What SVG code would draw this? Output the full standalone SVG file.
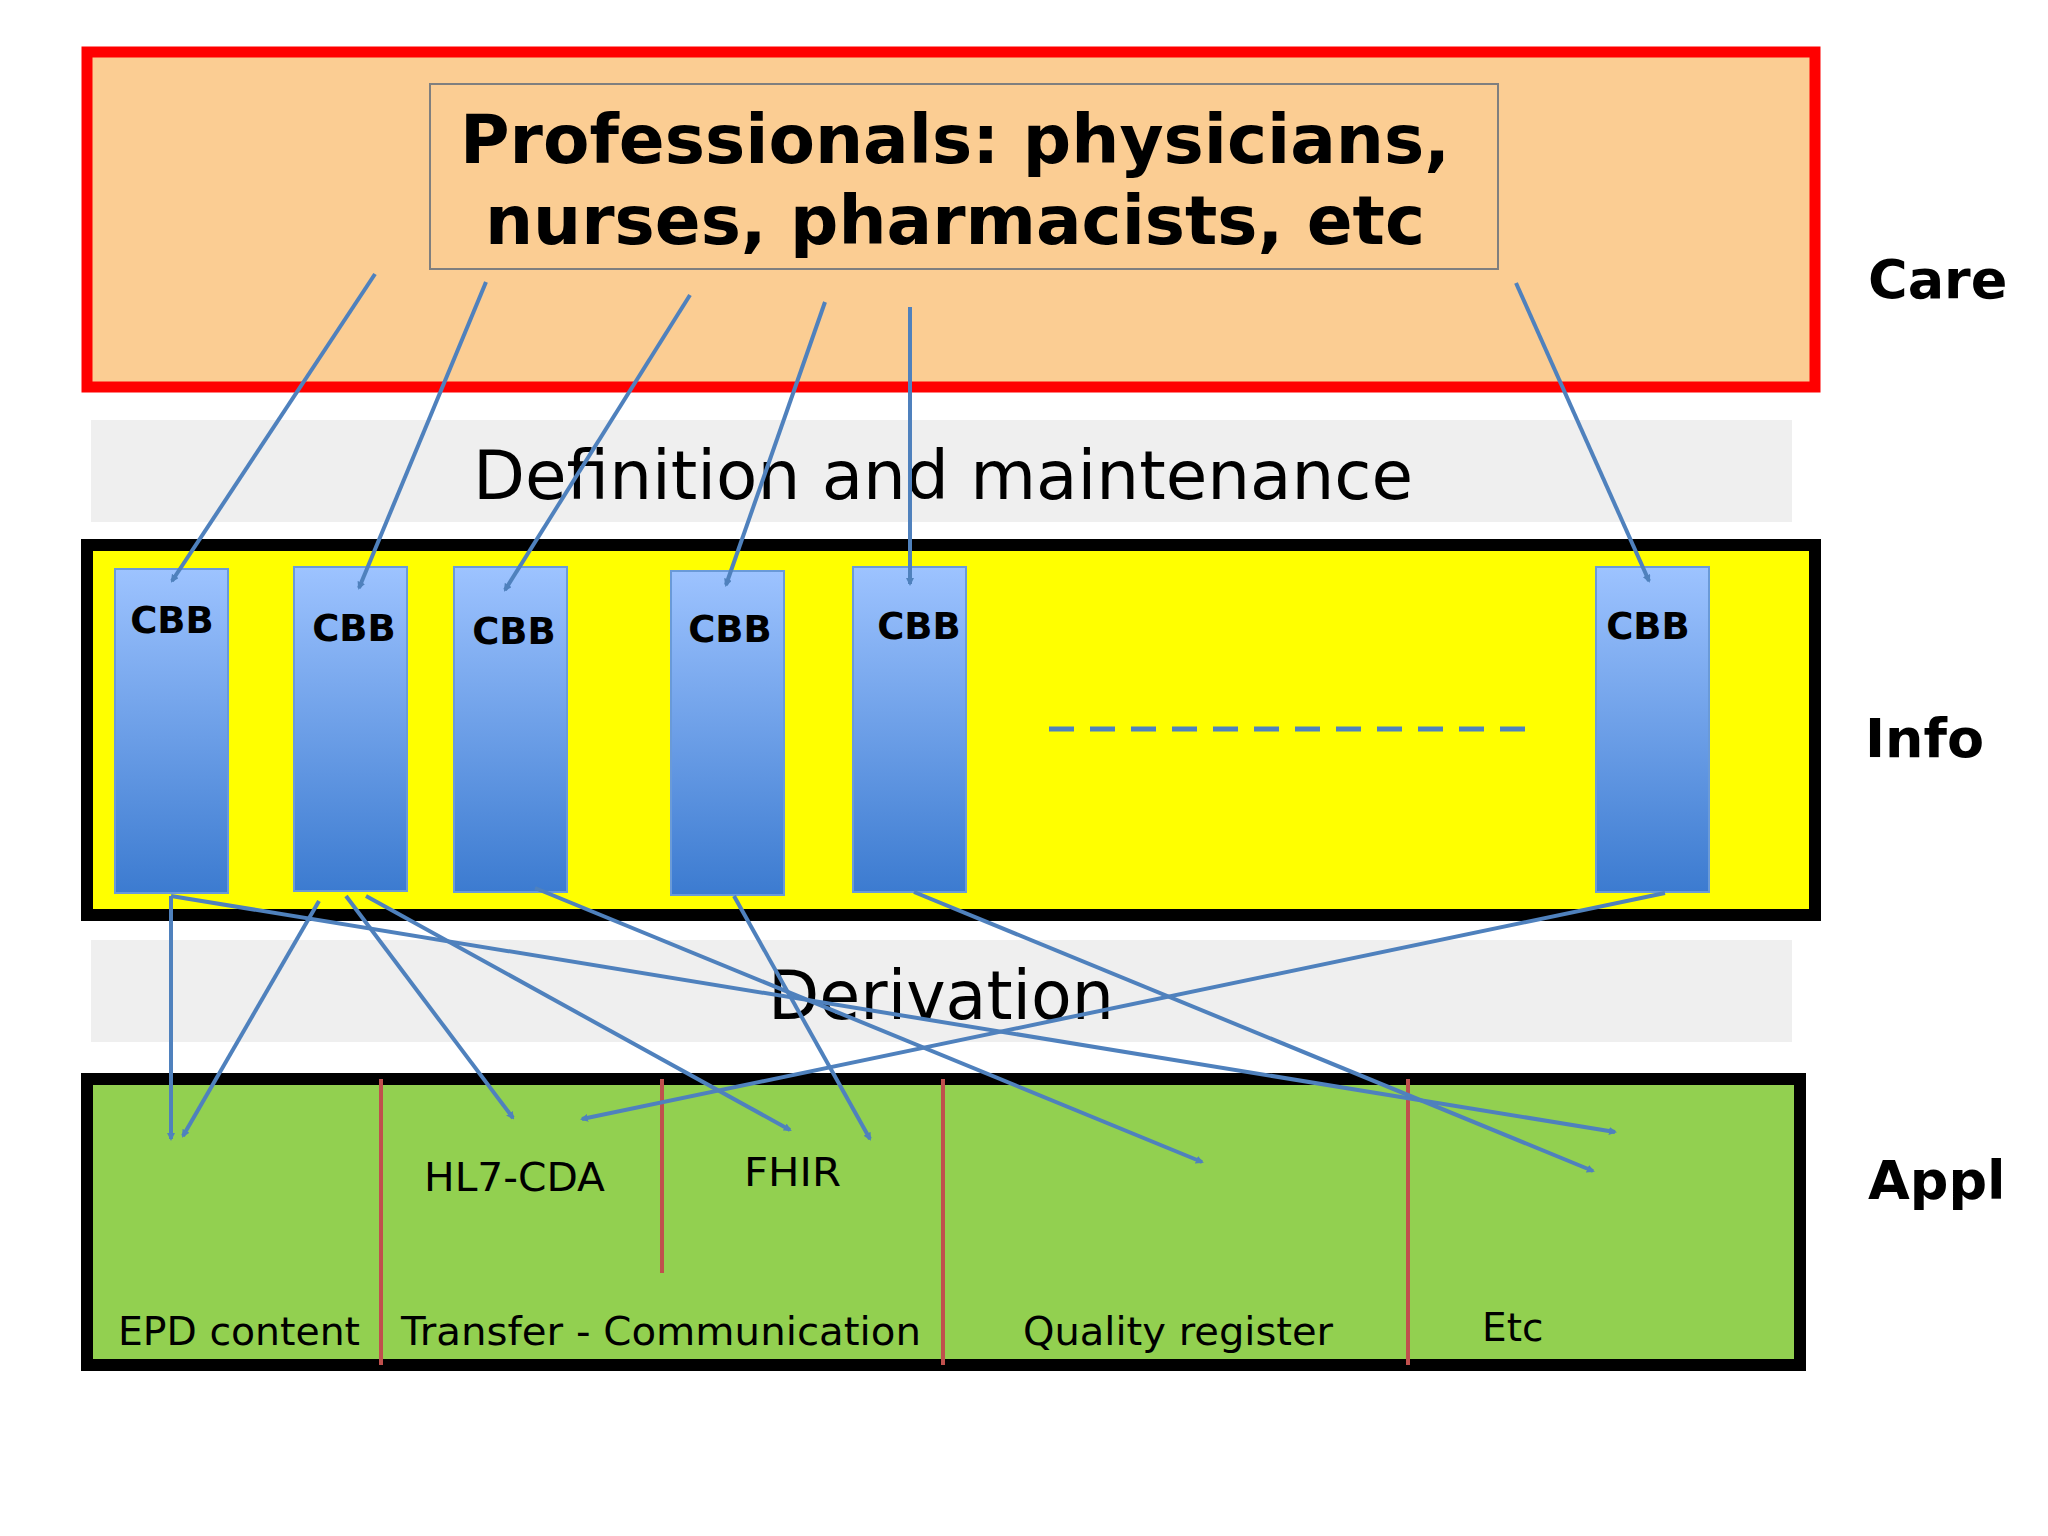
<svg xmlns="http://www.w3.org/2000/svg" width="2048" height="1536" viewBox="0 0 2048 1536">
<style>
.cbb{fill:url(#g);stroke:#6a9ad8;stroke-width:2}
.cl{font-family:"DejaVu Sans",sans-serif;font-weight:bold;font-size:37px;fill:#000;text-anchor:middle}
.side{font-family:"DejaVu Sans",sans-serif;font-weight:bold;font-size:54px;fill:#000}
.app{font-family:"DejaVu Sans",sans-serif;font-size:39px;fill:#000}
.band{font-family:"DejaVu Sans",sans-serif;font-size:68px;fill:#000}
.c{stroke:#4f81bd;stroke-width:4;fill:none;marker-end:url(#a)}
.sep{stroke:#c0504d;stroke-width:4}
</style>
<defs>
<linearGradient id="g" x1="0" y1="0" x2="0" y2="1"><stop offset="0" stop-color="#9dc3ff"/><stop offset="1" stop-color="#3c7bd0"/></linearGradient>
<marker id="a" markerWidth="8" markerHeight="8" refX="6" refY="4" orient="auto" markerUnits="userSpaceOnUse"><path d="M0,0 L8,4 L0,8 z" fill="#4f81bd"/></marker>
</defs>
<rect width="2048" height="1536" fill="#fff"/>
<g id="care">
<rect x="87" y="52" width="1728" height="335" fill="#fbcd93" stroke="#ff0000" stroke-width="11"/>
<rect x="430" y="84" width="1068" height="185" fill="none" stroke="#7f7f7f" stroke-width="2"/>
<text x="955" y="163" class="band" font-weight="bold" text-anchor="middle" textLength="990" lengthAdjust="spacingAndGlyphs">Professionals: physicians,</text>
<text x="955" y="244" class="band" font-weight="bold" text-anchor="middle" textLength="940" lengthAdjust="spacingAndGlyphs">nurses, pharmacists, etc</text>
</g>
<g id="definition"><rect x="91" y="420" width="1701" height="102" fill="#efefef"/>
<text x="473" y="499" class="band" textLength="940" lengthAdjust="spacingAndGlyphs">Definition and maintenance</text></g>
<g id="info">
<rect x="87" y="545" width="1728" height="370" fill="#ffff00" stroke="#000" stroke-width="12"/>
<line x1="1049" y1="729" x2="1538" y2="729" stroke="#4f81bd" stroke-width="5" stroke-dasharray="25,16"/>
</g>
<g id="cbb1"><rect class="cbb" x="115" y="569" width="113" height="324"/><text class="cl" x="172" y="633">CBB</text></g>
<g id="cbb2"><rect class="cbb" x="294" y="567" width="113" height="324"/><text class="cl" x="354" y="641">CBB</text></g>
<g id="cbb3"><rect class="cbb" x="454" y="567" width="113" height="325"/><text class="cl" x="514" y="644">CBB</text></g>
<g id="cbb4"><rect class="cbb" x="671" y="571" width="113" height="324"/><text class="cl" x="730" y="642">CBB</text></g>
<g id="cbb5"><rect class="cbb" x="853" y="567" width="113" height="325"/><text class="cl" x="919" y="639">CBB</text></g>
<g id="cbb6"><rect class="cbb" x="1596" y="567" width="113" height="325"/><text class="cl" x="1648" y="639">CBB</text></g>
<g id="derivation"><rect x="91" y="940" width="1701" height="102" fill="#efefef"/>
<text x="768" y="1019" class="band" textLength="346" lengthAdjust="spacingAndGlyphs">Derivation</text></g>
<g id="appl">
<rect x="87" y="1079" width="1713" height="286" fill="#92d050" stroke="#000" stroke-width="12"/>
<line class="sep" x1="381" y1="1079" x2="381" y2="1365"/>
<line class="sep" x1="662" y1="1079" x2="662" y2="1273"/>
<line class="sep" x1="943" y1="1079" x2="943" y2="1365"/>
<line class="sep" x1="1408" y1="1079" x2="1408" y2="1365"/>
<text class="app" x="118" y="1345" textLength="242" lengthAdjust="spacingAndGlyphs">EPD content</text>
<text class="app" x="401" y="1345" textLength="520" lengthAdjust="spacingAndGlyphs">Transfer - Communication</text>
<text class="app" x="1023" y="1345" textLength="310" lengthAdjust="spacingAndGlyphs">Quality register</text>
<text class="app" x="1482" y="1341">Etc</text>
<text class="app" x="424" y="1191" textLength="181" lengthAdjust="spacingAndGlyphs">HL7-CDA</text>
<text class="app" x="744" y="1186" textLength="97" lengthAdjust="spacingAndGlyphs">FHIR</text>
</g>
<g id="labels">
<text class="side" x="1868" y="298">Care</text>
<text class="side" x="1865" y="757">Info</text>
<text class="side" x="1868" y="1199">Appl</text>
</g>
<g id="connectors">
<line class="c" x1="375" y1="274" x2="172" y2="581"/>
<line class="c" x1="486" y1="282" x2="359" y2="588"/>
<line class="c" x1="690" y1="295" x2="505" y2="590"/>
<line class="c" x1="825" y1="302" x2="726" y2="585"/>
<line class="c" x1="910" y1="307" x2="910" y2="584"/>
<line class="c" x1="1516" y1="283" x2="1649" y2="581"/>
<line class="c" x1="171" y1="896" x2="171" y2="1139"/>
<line class="c" x1="319" y1="901" x2="183" y2="1136"/>
<line class="c" x1="346" y1="896" x2="513" y2="1118"/>
<line class="c" x1="366" y1="896" x2="790" y2="1130"/>
<line class="c" x1="171" y1="896" x2="1615" y2="1132"/>
<line class="c" x1="535" y1="888" x2="1202" y2="1162"/>
<line class="c" x1="734" y1="896" x2="870" y2="1139"/>
<line class="c" x1="914" y1="892" x2="1593" y2="1171"/>
<line class="c" x1="1665" y1="893" x2="582" y2="1119"/>
</g>
</svg>
